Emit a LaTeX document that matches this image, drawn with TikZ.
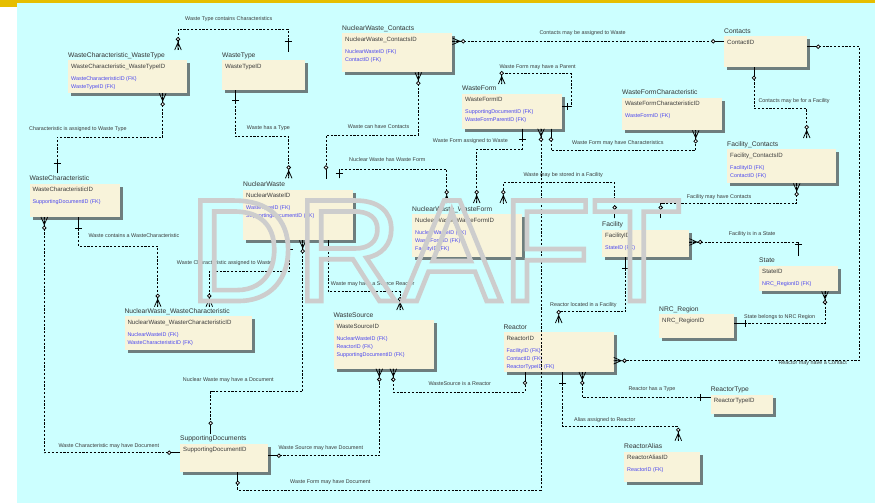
\documentclass[tikz,border=0pt]{standalone}
\usepackage{fontspec}
\setmainfont{Liberation Sans}
\usetikzlibrary{shadows}
\definecolor{bgc}{HTML}{CCFFFF}
\definecolor{ylw}{HTML}{E6BE00}
\definecolor{boxc}{HTML}{F8F3DA}
\definecolor{shc}{HTML}{6E7E7E}
\definecolor{ttc}{HTML}{333333}
\definecolor{pkc}{HTML}{3C3C3C}
\definecolor{fkc}{HTML}{4A46F0}
\definecolor{lbc}{HTML}{3A3A3A}
\definecolor{wmc}{HTML}{CDCDCD}
\tikzset{
 ebox/.style={fill=boxc, draw=none, inner sep=0, anchor=north west,
   drop shadow={shadow xshift=3pt, shadow yshift=-3pt, fill=shc, opacity=1}},
 ttl/.style={font=\fontsize{6.7}{8}\selectfont, text=ttc, inner sep=0, anchor=base west},
 pk/.style={font=\fontsize{6.1}{7}\selectfont, text=pkc, inner sep=0, anchor=base west},
 fk/.style={font=\fontsize{5.4}{6}\selectfont, text=fkc, inner sep=0, anchor=base west},
 lbl/.style={font=\fontsize{5.4}{6}\selectfont, text=lbc, inner sep=0, anchor=base west},
 rel/.style={draw=black, line width=0.75pt, dash pattern=on 2.2pt off 1.6pt},
 mk/.style={draw=black, line width=0.75pt},
}
\newcommand\entity[7]{%
 \node[ebox, minimum width=#4pt, minimum height=#5pt] (#1) at (#2,#3) {};
 \node[ttl] (#1-t) at ([yshift=2.5pt]#1.north west) {#6};
 \node[pk] (#1-k) at ([xshift=3pt,yshift=-8.6pt]#1.north west) {#7};
}
\newcommand\fks[2]{\foreach \ftxt [count=\fkn] in {#2}{%
 \node[fk] (#1-f\fkn) at ([xshift=3pt,yshift={-20.6pt-(\fkn-1)*8pt}]#1.north west) {\ftxt};}}
\newcommand\mmany[2]{\begin{scope}[shift={#1},rotate=#2]
 \draw[mk] (0,0)--(9,0) (0,-3.3)--(7.5,0)--(0,3.3);
 \draw[mk,fill=white] (10.8,0) circle[radius=1.8pt];\end{scope}}
\newcommand\mzo[2]{\begin{scope}[shift={#1},rotate=#2]
 \draw[mk] (0,0)--(9,0);
 \draw[mk,fill=white] (10.8,0) circle[radius=1.8pt];\end{scope}}
\newcommand\mone[4]{\begin{scope}[shift={#1},rotate=#2]
 \draw[mk] (0,0)--(#4,0) (#3,-3.5)--(#3,3.5);\end{scope}}
\begin{document}
\begin{tikzpicture}[x=1pt,y=-1pt]
\useasboundingbox (0,0) rectangle (875,503);
\fill[white] (0,0) rectangle (875,503);
\fill[ylw] (0,0) rectangle (875,3);
\fill[ylw] (0,0) rectangle (17,6.7);
\fill[bgc] (17,3) rectangle (875,503);

% entities
\entity{wcwt}{68}{60}{119}{33}{WasteCharacteristic\_WasteType}{WasteCharacteristic\_WasteTypeID}
\fks{wcwt}{WasteCharacteristicID (FK),WasteTypeID (FK)}
\entity{wt}{222}{60}{83}{30}{WasteType}{WasteTypeID}
\entity{nwc}{342}{33.3}{110}{38.7}{NuclearWaste\_Contacts}{NuclearWaste\_ContactsID}
\fks{nwc}{NuclearWasteID (FK),ContactID (FK)}
\entity{con}{724}{35.7}{83}{31}{Contacts}{ContactID}
\entity{wf}{462}{93.3}{100}{35}{WasteForm}{WasteFormID}
\fks{wf}{SupportingDocumentID (FK),WasteFormParentID (FK)}
\entity{wfc}{622}{97.3}{100}{32.7}{WasteFormCharacteristic}{WasteFormCharacteristicID}
\fks{wfc}{WasteFormID (FK)}
\entity{fc}{727}{149}{109}{34}{Facility\_Contacts}{Facility\_ContactsID}
\fks{fc}{FacilityID (FK),ContactID (FK)}
\entity{wc}{29.3}{183.3}{90}{33.4}{WasteCharacteristic}{WasteCharacteristicID}
\fks{wc}{SupportingDocumentID (FK)}
\entity{nw}{243}{189.3}{110}{50.7}{NuclearWaste}{NuclearWasteID}
\fks{nw}{WasteTypeID (FK),SupportingDocumentID (FK)}
\entity{nwwf}{412}{214}{110}{43}{NuclearWaste\_WasteForm}{NuclearWaste\_WasteFormID}
\fks{nwwf}{NuclearWasteID (FK),WasteFormID (FK),FacilityID (FK)}
\entity{fac}{602}{229.3}{87}{27.4}{Facility}{FacilityID}
\fks{fac}{StateID (FK)}
\entity{st}{759}{265.3}{79}{25.7}{State}{StateID}
\fks{st}{NRC\_RegionID (FK)}
\entity{nrc}{659}{314}{75}{24}{NRC\_Region}{NRC\_RegionID}
\entity{nwwc}{124.3}{316}{127.4}{34}{NuclearWaste\_WasteCharacteristic}{NuclearWaste\_WasterCharacteristicID}
\fks{nwwc}{NuclearWasteID (FK),WasteCharacteristicID (FK)}
\entity{ws}{333.3}{320}{100.7}{48.3}{WasteSource}{WasteSourceID}
\fks{ws}{NuclearWasteID (FK),ReactorID (FK),SupportingDocumentID (FK)}
\entity{re}{503.3}{331.7}{110}{40}{Reactor}{ReactorID}
\fks{re}{FacilityID (FK),ContactID (FK),ReactorTypeID (FK)}
\entity{rt}{710.7}{394.3}{61.6}{19}{ReactorType}{ReactorTypeID}
\entity{ra}{624}{451.3}{76}{30.4}{ReactorAlias}{ReactorAliasID}
\fks{ra}{ReactorID (FK)}
\entity{sd}{180}{443.3}{87.7}{28.4}{SupportingDocuments}{SupportingDocumentID}

% relationships
% R1
\draw[rel] ([shift={(66,-8)}]wt.north west) |- (178,29) -- ([shift={(110,-10)}]wcwt.north west);
\mone{([shift={(66,-8)}]wt.north west)}{90}{11}{13}
\mmany{([shift={(110,-10)}]wcwt.north west)}{90}
% R2
\draw[rel] ([shift={(94.7,0)}]wcwt.south west) |- (57,137) -- ([shift={(27.7,-10)}]wc.north west);
\mmany{([shift={(94.7,0)}]wcwt.south west)}{-90}
\mone{([shift={(27.7,-10)}]wc.north west)}{90}{10}{12}
% R3
\draw[rel] ([shift={(13,0)}]wt.south west) |- (288.7,136.7) -- ([shift={(45.7,-11)}]nw.north west);
\mone{([shift={(13,0)}]wt.south west)}{-90}{10}{12}
\mmany{([shift={(45.7,-11)}]nw.north west)}{90}
% R4
\draw[rel] ([shift={(76.3,0)}]nwc.south west) |- (326,135) -- ([shift={(83,-11)}]nw.north west);
\mmany{([shift={(76.3,0)}]nwc.south west)}{-90}
\mzo{([shift={(83,-11)}]nw.north west)}{90}
% R5
\draw[rel] ([shift={(96,-11)}]nw.north west) |- (446.7,169) -- ([shift={(34.7,-11)}]nwwf.north west);
\mone{([shift={(96,-11)}]nw.north west)}{90}{4.5}{9.3}
\mmany{([shift={(34.7,-11)}]nwwf.north west)}{90}
% R6
\draw[rel] ([shift={(60.3,0)}]wf.south west) |- (476.7,149) -- ([shift={(64.7,-11)}]nwwf.north west);
\mone{([shift={(60.3,0)}]wf.south west)}{-90}{11}{13}
\mmany{([shift={(64.7,-11)}]nwwf.north west)}{90}
% R7
\draw[rel] ([shift={(0,13.4)}]wf.north east) -| (571.7,73.7) -| ([shift={(39.7,-9.3)}]wf.north west);
\mone{([shift={(0,13.4)}]wf.north east)}{0}{5}{9.7}
\mmany{([shift={(39.7,-9.3)}]wf.north west)}{90}
% R8
\draw[rel] ([shift={(89,0)}]wf.south west) |- (695.7,150.7) -- ([shift={(73.7,0)}]wfc.south west);
\mzo{([shift={(89,0)}]wf.south west)}{-90}
\mmany{([shift={(73.7,0)}]wfc.south west)}{-90}
% R9
\draw[rel] ([shift={(0,8)}]nwc.north east) -- ([shift={(0,5.6)}]con.north west);
\mmany{([shift={(0,8)}]nwc.north east)}{0}
\mzo{([shift={(0,5.6)}]con.north west)}{180}
% R10
\draw[rel] ([shift={(30,0)}]con.south west) |- (806.7,108.7) -- ([shift={(79.7,-11)}]fc.north west);
\mzo{([shift={(30,0)}]con.south west)}{-90}
\mmany{([shift={(79.7,-11)}]fc.north west)}{90}
% R11
\draw[rel] ([shift={(0,11)}]con.north east) -| (859.3,360.7) -- ([shift={(0,29)}]re.north east);
\mzo{([shift={(0,11)}]con.north east)}{0}
\mmany{([shift={(0,29)}]re.north east)}{0}
% R12
\draw[rel] ([shift={(69.7,0)}]fc.south west) |- (660.7,203.3) -- ([shift={(58.7,-11)}]fac.north west);
\mmany{([shift={(69.7,0)}]fc.south west)}{-90}
\mzo{([shift={(58.7,-11)}]fac.north west)}{90}
% R13
\draw[rel] ([shift={(12.7,-11)}]fac.north west) |- (503.3,182.7) -- ([shift={(91.3,-11)}]nwwf.north west);
\mzo{([shift={(12.7,-11)}]fac.north west)}{90}
\mmany{([shift={(91.3,-11)}]nwwf.north west)}{90}
% R14
\draw[rel] ([shift={(0,12.7)}]fac.north east) -| ([shift={(39.3,-9.3)}]st.north west);
\mmany{([shift={(0,12.7)}]fac.north east)}{0}
\mone{([shift={(39.3,-9.3)}]st.north west)}{90}{11.7}{14}
% R15
\draw[rel] ([shift={(66,0)}]st.south west) |- ([shift={(0,9.3)}]nrc.north east);
\mmany{([shift={(66,0)}]st.south west)}{-90}
\mone{([shift={(0,9.3)}]nrc.north east)}{0}{11}{13}
% R16
\draw[rel] ([shift={(23.7,0)}]fac.south west) |- (558.7,311.7) -- ([shift={(55.4,-8.7)}]re.north west);
\mone{([shift={(23.7,0)}]fac.south west)}{-90}{11}{13}
\mmany{([shift={(55.4,-8.7)}]re.north west)}{90}
% R17
\draw[rel] ([shift={(46.3,0)}]nw.south west) |- (209.3,271.7) -- ([shift={(85,-9.3)}]nwwc.north west);
\mone{([shift={(46.3,0)}]nw.south west)}{-90}{9}{11}
\mmany{([shift={(85,-9.3)}]nwwc.north west)}{90}
% R18
\draw[rel] ([shift={(49,0)}]wc.south west) |- (157.7,246) -- ([shift={(33.4,-9.3)}]nwwc.north west);
\mone{([shift={(49,0)}]wc.south west)}{-90}{11}{13}
\mmany{([shift={(33.4,-9.3)}]nwwc.north west)}{90}
% R19
\draw[rel] ([shift={(15,0)}]wc.south west) |- ([shift={(0,9.4)}]sd.north west);
\mmany{([shift={(15,0)}]wc.south west)}{-90}
\mzo{([shift={(0,9.4)}]sd.north west)}{180}
% R20
\draw[rel] ([shift={(59.7,0)}]nw.south west) |- (210.7,391.7) -- ([shift={(30.7,-9.3)}]sd.north west);
\mmany{([shift={(59.7,0)}]nw.south west)}{-90}
\mzo{([shift={(30.7,-9.3)}]sd.north west)}{90}
% R21
\draw[rel] ([shift={(85.3,0)}]nw.south west) |- (400,291.7) -- ([shift={(66.7,-10)}]ws.north west);
\mone{([shift={(85.3,0)}]nw.south west)}{-90}{9.3}{11}
\mmany{([shift={(66.7,-10)}]ws.north west)}{90}
% R22
\draw[rel] ([shift={(60,0)}]ws.south west) |- (525,392) -- ([shift={(21.7,0)}]re.south west);
\mmany{([shift={(60,0)}]ws.south west)}{-90}
\mzo{([shift={(21.7,0)}]re.south west)}{-90}
% R23
\draw[rel] ([shift={(0,12.4)}]sd.north east) -| ([shift={(46,0)}]ws.south west);
\mzo{([shift={(0,12.4)}]sd.north east)}{0}
\mmany{([shift={(46,0)}]ws.south west)}{-90}
% R24
\draw[rel] ([shift={(57.7,0)}]sd.south west) |- (541,490) -- ([shift={(79,0)}]wf.south west);
\mzo{([shift={(57.7,0)}]sd.south west)}{-90}
\mmany{([shift={(79,0)}]wf.south west)}{-90}
% R25
\draw[rel] ([shift={(79,0)}]re.south west) |- ([shift={(0,3.4)}]rt.north west);
\mmany{([shift={(79,0)}]re.south west)}{-90}
\mone{([shift={(0,3.4)}]rt.north west)}{180}{10.7}{13}
% R26
\draw[rel] ([shift={(59.4,0)}]re.south west) |- (678.3,426.7) -- ([shift={(54.3,-10.6)}]ra.north west);
\mone{([shift={(59.4,0)}]re.south west)}{-90}{11.6}{13}
\mmany{([shift={(54.3,-10.6)}]ra.north west)}{90}

% labels
\node[lbl] (l1) at (185,20.9) {Waste Type contains Characteristics};
\node[lbl] (l2) at (29,130.6) {Characteristic is assigned to Waste Type};
\node[lbl] (l3) at (246.7,129.9) {Waste has a Type};
\node[lbl] (l4) at (347.7,128.9) {Waste can have Contacts};
\node[lbl] (l5) at (349,161.9) {Nuclear Waste has Waste Form};
\node[lbl] (l6) at (432.7,142.9) {Waste Form assigned to Waste};
\node[lbl] (l7) at (499.3,68.9) {Waste Form may have a Parent};
\node[lbl] (l8) at (572,144.9) {Waste Form may have Characteristics};
\node[lbl] (l9) at (539.3,34.2) {Contacts may be assigned to Waste};
\node[lbl] (l10) at (758.3,102.6) {Contacts may be for a Facility};
\node[lbl] (l11) at (778.3,364.4) {Reactor may have a Contact};
\node[lbl] (l12) at (686.7,198.6) {Facility may have Contacts};
\node[lbl] (l13) at (523.3,176.9) {Waste may be stored in a Facility};
\node[lbl] (l14) at (728.7,235.9) {Facility is in a State};
\node[lbl] (l15) at (744,318.6) {State belongs to NRC Region};
\node[lbl] (l16) at (550,306.9) {Reactor located in a Facility};
\node[lbl] (l17) at (176.7,264.6) {Waste Characteristic assigned to Waste};
\node[lbl] (l18) at (88.3,237.9) {Waste contains a WasteCharacteristic};
\node[lbl] (l19) at (58.3,447.9) {Waste Characteristic may have Document};
\node[lbl] (l20) at (182.7,381.9) {Nuclear Waste may have a Document};
\node[lbl] (l21) at (330.7,285.9) {Waste may have a Source Reactor};
\node[lbl] (l22) at (428.3,385.6) {WasteSource is a Reactor};
\node[lbl] (l23) at (278.3,449.6) {Waste Source may have Document};
\node[lbl] (l24) at (290,483.9) {Waste Form may have Document};
\node[lbl] (l25) at (628.3,390.9) {Reactor has a Type};
\node[lbl] (l26) at (574,421.9) {Alias assigned to Reactor};

% watermark
\node[inner sep=0, anchor=base west, font=\fontsize{146}{150}\selectfont] (draft) at (188,301)
 {\scalebox{1.015}[1]{\color{wmc}\special{pdf:literal direct 1 Tr 4.6 w}DRAFT\special{pdf:literal direct 0 Tr}}};
\end{tikzpicture}
\end{document}
